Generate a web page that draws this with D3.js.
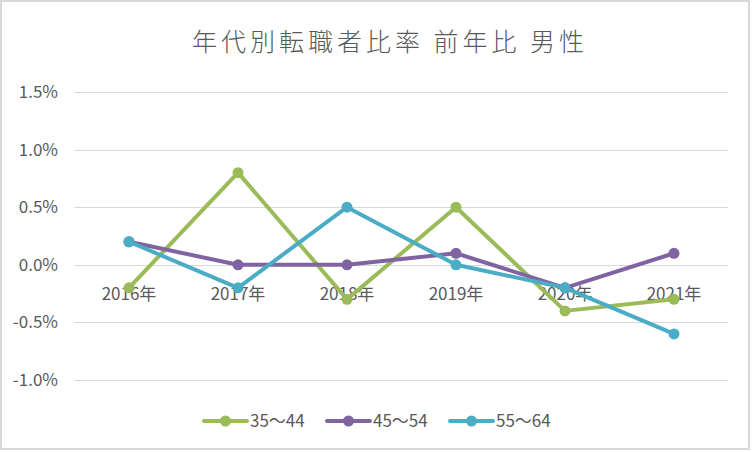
<!DOCTYPE html>
<html><head><meta charset="utf-8">
<script src="https://cdn.jsdelivr.net/npm/d3@7"></script>
<style>body{margin:0;background:#fff}svg{display:block}text{font-family:"Noto Sans CJK JP","Noto Sans",sans-serif}</style>
</head><body><svg id="c" width="752" height="452"></svg>
<script>
const title = "年代別転職者比率 前年比 男性";
const categories = ["2016年","2017年","2018年","2019年","2020年","2021年"];
const seriesNames = ["35〜44","45〜54","55〜64"];
const s35 = [-0.2, 0.8, -0.3, 0.5, -0.4, -0.3];
const s45 = [0.2, 0.0, 0.0, 0.1, -0.2, 0.1];
const s55 = [0.2, -0.2, 0.5, 0.0, -0.2, -0.6];
const yTicks = [-1.0, -0.5, 0.0, 0.5, 1.0, 1.5];
const colors = ["#9BBB59","#8064A2","#4BACC6"];
const series = [s35, s45, s55];

const svg = d3.select("#c");
svg.append("rect").attr("x",1).attr("y",1).attr("width",748).attr("height",448)
  .attr("fill","#fff").attr("stroke","#d9d9d9").attr("stroke-width",2);

svg.append("text").attr("x",390).attr("y",51).attr("text-anchor","middle")
  .attr("font-size",25).attr("font-weight",300).attr("fill","#595959").attr("letter-spacing",4).text(title);

const x = d3.scaleBand().domain(categories).range([74.5,728.5]);
const y = d3.scaleLinear().domain([-1.0,1.5]).range([380,92]);

const grid = svg.append("g");
grid.selectAll("line").data(yTicks).join("line")
  .attr("x1",74.5).attr("x2",728.5).attr("y1",d=>Math.round(y(d))+0.5).attr("y2",d=>Math.round(y(d))+0.5)
  .attr("stroke","#d9d9d9").attr("stroke-width",1);

const yAxis = svg.append("g").attr("transform","translate(58,0)")
  .call(d3.axisLeft(y).tickValues(yTicks).tickSize(0).tickPadding(0).tickFormat(d=>d.toFixed(1)+"%"));
yAxis.select(".domain").remove();
yAxis.selectAll("text").attr("font-size",17).attr("fill","#595959").attr("font-family","\"Noto Sans\",sans-serif");

const xAxis = svg.append("g").attr("transform",`translate(0,${y(0)})`)
  .call(d3.axisBottom(x).tickSize(0).tickPadding(0));
xAxis.select(".domain").remove();
xAxis.selectAll("text").attr("font-size",17).attr("fill","#595959").attr("dy",null).attr("y",35);

const line = d3.line().x((d,i)=>x(categories[i])+x.bandwidth()/2).y(d=>y(d));
series.forEach((s,k)=>{
  const g = svg.append("g");
  g.append("path").datum(s).attr("d",line).attr("fill","none").attr("stroke",colors[k])
    .attr("stroke-width",4).attr("stroke-linejoin","round").attr("stroke-linecap","round");
  g.selectAll("circle").data(s).join("circle")
    .attr("cx",(d,i)=>x(categories[i])+x.bandwidth()/2).attr("cy",d=>y(d)).attr("r",5.5).attr("fill",colors[k]);
});

const legX = [204, 327, 450];
const leg = svg.append("g");
seriesNames.forEach((n,k)=>{
  const g = leg.append("g").attr("transform",`translate(${legX[k]},421)`);
  g.append("line").attr("x1",0).attr("x2",43).attr("stroke",colors[k]).attr("stroke-width",4).attr("stroke-linecap","round");
  g.append("circle").attr("cx",21.5).attr("r",5.5).attr("fill",colors[k]);
  g.append("text").attr("x",46).attr("y",6).attr("font-size",17).attr("fill","#595959").text(n);
});
</script></body></html>
